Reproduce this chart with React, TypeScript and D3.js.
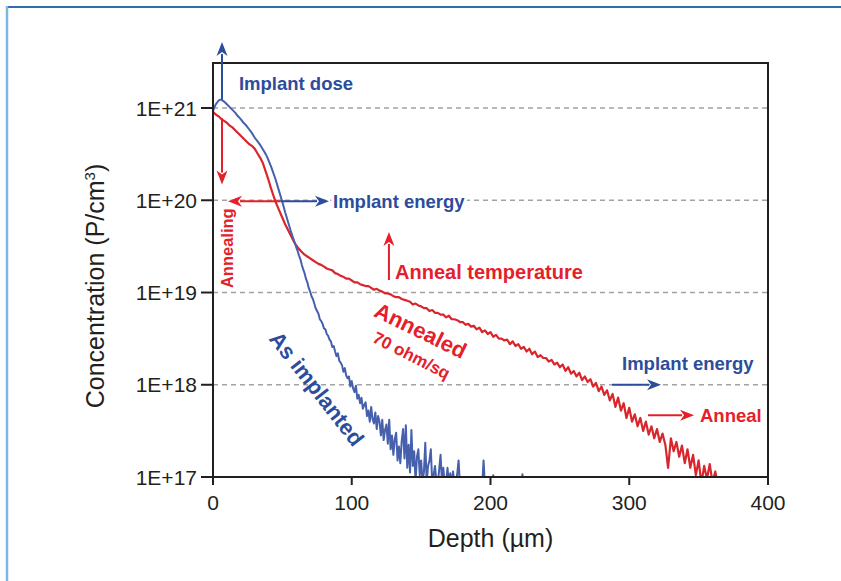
import React from "react";
import * as d3 from "d3";

// depth (um), log10 concentration (P/cm3)
const asImplanted: [number, number][] = [
  [0, 20.97], [1, 21.01], [2, 21.04], [3, 21.06], [4, 21.08], [5, 21.09], [6, 21.09], [7, 21.08], [8, 21.07],
  [10, 21.04], [12, 21.01], [14, 20.98], [16, 20.95], [18, 20.91], [20, 20.88], [22, 20.84], [24, 20.81],
  [26, 20.77], [28, 20.73], [30, 20.68], [32, 20.64], [34, 20.6], [36, 20.55], [38, 20.5], [39, 20.47],
  [42, 20.36], [45, 20.23], [48, 20.08], [50, 19.98], [52, 19.87], [54, 19.77], [56, 19.67], [58, 19.58],
  [60, 19.49], [61, 19.45], [62, 19.4], [63, 19.36], [64, 19.3], [65, 19.25], [66, 19.21], [67, 19.15],
  [68, 19.11], [69, 19.05], [70, 19.01], [71, 18.96], [72, 18.93], [73, 18.88], [74, 18.83], [75, 18.8],
  [76, 18.77], [77, 18.71], [78, 18.69], [79, 18.66], [80, 18.61], [81, 18.6], [82, 18.55], [83, 18.53],
  [84, 18.49], [85, 18.47], [86, 18.41], [87, 18.42], [88, 18.36], [89, 18.31], [90, 18.34], [91, 18.26],
  [92, 18.24], [93, 18.21], [94, 18.14], [95, 18.18], [96, 18.1], [97, 18.07], [98, 18.09], [99, 17.98],
  [100, 18.04], [101, 17.96], [102, 17.92], [103, 17.99], [104, 17.85], [105, 17.89], [106, 17.8], [107, 17.86],
  [108, 17.74], [109, 17.78], [110, 17.81], [111, 17.66], [112, 17.72], [113, 17.6], [114, 17.76], [115, 17.63],
  [116, 17.58], [117, 17.7], [118, 17.52], [119, 17.66], [120, 17.6], [121, 17.45], [122, 17.62], [123, 17.4],
  [124, 17.51], [125, 17.57], [126, 17.36], [127, 17.62], [128, 17.3], [129, 17.45], [130, 17.24], [131, 17.41],
  [132, 17.48], [133, 17.18], [134, 17.33], [135, 17.15], [136, 17.39], [137, 17.52], [138, 17.2], [139, 17.56],
  [140, 17.1], [141, 17.35], [142, 17.05], [143, 17.51], [144, 17.12], [145, 17.28], [146, 16.95], [147, 17.22],
  [148, 17.3], [149, 17.02], [150, 17.18], [151, 16.95], [152, 17.05], [153, 17.37], [154, 16.94], [155, 17.12],
  [156, 17.18], [157, 17.3], [158, 16.93], [159, 17.02], [160, 17.12], [161, 16.95], [162, 16.92], [163, 17.08],
  [164, 17.24], [165, 16.95], [166, 17.1], [167, 16.92], [168, 16.94], [169, 17.1], [170, 16.93], [171, 17.04],
  [172, 16.91], [173, 17.06], [174, 16.92], [175, 16.92], [176, 17.03], [177, 17.18], [178, 16.9], [194, 16.9],
  [195, 17.18], [196, 16.9], [201, 16.9], [202, 17.02], [203, 16.9], [222, 16.9], [223, 17.03], [224, 16.9],
];

const annealed: [number, number][] = [
  [0, 20.96], [2, 20.93], [4, 20.91], [6, 20.88], [8, 20.86], [10, 20.84], [12, 20.81], [14, 20.79],
  [16, 20.76], [18, 20.73], [20, 20.7], [22, 20.67], [24, 20.64], [26, 20.61], [28, 20.59], [30, 20.56],
  [32, 20.51], [34, 20.46], [36, 20.4], [38, 20.31], [40, 20.22], [42, 20.12], [44, 20.03], [46, 19.95],
  [48, 19.88], [50, 19.81], [52, 19.74], [54, 19.68], [56, 19.62], [58, 19.56], [60, 19.51], [62, 19.47],
  [64, 19.44], [66, 19.41], [68, 19.39], [70, 19.37], [72, 19.35], [74, 19.33], [76, 19.31], [78, 19.3],
  [80, 19.28], [82, 19.26], [84, 19.25], [86, 19.24], [88, 19.21], [90, 19.2], [92, 19.18], [94, 19.17],
  [96, 19.15], [98, 19.15], [100, 19.13], [102, 19.11], [104, 19.11], [106, 19.09], [108, 19.08], [110, 19.07],
  [112, 19.07], [114, 19.05], [116, 19.03], [118, 19.04], [120, 19.02], [122, 19.01], [124, 18.99], [126, 18.99],
  [128, 18.98], [130, 18.96], [132, 18.95], [134, 18.95], [136, 18.93], [138, 18.92], [140, 18.91], [142, 18.9],
  [144, 18.87], [146, 18.88], [148, 18.86], [150, 18.85], [152, 18.83], [154, 18.83], [156, 18.8], [158, 18.81],
  [160, 18.78], [162, 18.78], [164, 18.76], [166, 18.76], [168, 18.73], [170, 18.75], [172, 18.71], [174, 18.71],
  [176, 18.7], [178, 18.68], [180, 18.68], [182, 18.65], [184, 18.66], [186, 18.63], [188, 18.64], [190, 18.6],
  [192, 18.62], [194, 18.57], [196, 18.59], [198, 18.55], [200, 18.57], [202, 18.52], [204, 18.54], [206, 18.5],
  [208, 18.5], [210, 18.48], [212, 18.49], [214, 18.44], [216, 18.47], [218, 18.42], [220, 18.44], [222, 18.39],
  [224, 18.41], [226, 18.36], [228, 18.39], [230, 18.33], [232, 18.36], [234, 18.3], [236, 18.32], [238, 18.29],
  [240, 18.29], [242, 18.25], [244, 18.27], [246, 18.22], [248, 18.24], [250, 18.19], [252, 18.22], [254, 18.15],
  [256, 18.19], [258, 18.12], [260, 18.15], [262, 18.09], [264, 18.13], [266, 18.05], [268, 18.09], [270, 18.03],
  [272, 18.06], [274, 17.98], [276, 18.02], [278, 17.93], [280, 17.98], [282, 17.89], [284, 17.94], [286, 17.83],
  [288, 17.9], [290, 17.76], [292, 17.86], [294, 17.72], [296, 17.8], [298, 17.64], [300, 17.75], [302, 17.6],
  [304, 17.68], [306, 17.55], [308, 17.64], [310, 17.5], [312, 17.6], [314, 17.46], [316, 17.55], [318, 17.42],
  [320, 17.52], [322, 17.38], [324, 17.47], [326, 17.35], [328, 17.1], [330, 17.42], [332, 17.28], [334, 17.38],
  [336, 17.22], [338, 17.34], [340, 17.15], [342, 17.3], [344, 17.1], [346, 17.24], [348, 17.02], [350, 17.18],
  [352, 16.93], [354, 17.12], [356, 16.98], [358, 17.14], [360, 16.94], [362, 17.06], [364, 16.9],
];

const depthTicks = [0, 100, 200, 300, 400];
const concTicks = [1e17, 1e18, 1e19, 1e20, 1e21];
const gridTicks = [1e18, 1e19, 1e20, 1e21];

const BLUE = "#2c4c9c";
const RED = "#e5202a";
const BLUE_LINE = "#4660ad";
const RED_LINE = "#d8262c";
const INK = "#231f20";
const FONT = "'Liberation Sans', Arial, Helvetica, sans-serif";

const left = 213, right = 768, top = 63, bottom = 477;

const x = d3.scaleLinear().domain([0, 400]).range([left, right]);
const y = d3.scaleLog().domain([1e17, Math.pow(10, 21.488)]).range([bottom, top]);
const ly = (v: number) => y(Math.pow(10, v));

const line = d3.line<[number, number]>()
  .x(d => x(d[0]))
  .y(d => ly(d[1]));

function Arrow({ x1, y1, x2, y2, color }: { x1: number; y1: number; x2: number; y2: number; color: string }) {
  const ang = Math.atan2(y2 - y1, x2 - x1);
  const len = 14, hw = 5.5;
  const bx = x2 - len * Math.cos(ang), by = y2 - len * Math.sin(ang);
  const px = -Math.sin(ang) * hw, py = Math.cos(ang) * hw;
  return (
    <g>
      <line x1={x1} y1={y1} x2={bx + 2 * Math.cos(ang)} y2={by + 2 * Math.sin(ang)} stroke={color} strokeWidth={2} />
      <polygon points={`${x2},${y2} ${bx + px},${by + py} ${bx + 4 * Math.cos(ang)},${by + 4 * Math.sin(ang)} ${bx - px},${by - py}`} fill={color} />
    </g>
  );
}

export default function App() {
  return (
    <div style={{ position: "absolute", left: 0, top: 0 }}>
      <svg width={841} height={581} style={{ display: "block", background: "#fff" }} fontFamily={FONT}>
        <defs>
          <clipPath id="plot">
            <rect x={left} y={top} width={right - left} height={bottom - top} />
          </clipPath>
        </defs>

        {/* page frame */}
        <line x1={6} y1={7} x2={841} y2={7} stroke="#2f6ead" strokeWidth={2} />
        <line x1={7} y1={6} x2={7} y2={581} stroke="#7db8e1" strokeWidth={2.5} />

        {/* grid */}
        {gridTicks.map(t => (
          <line key={t} x1={left} x2={right} y1={y(t)} y2={y(t)} stroke="#a3a3a3" strokeWidth={1.5} strokeDasharray="5,4" />
        ))}

        {/* data */}
        <g clipPath="url(#plot)">
          <path d={line(annealed) || ""} fill="none" stroke={RED_LINE} strokeWidth={2.2} strokeLinejoin="round" />
          <path d={line(asImplanted) || ""} fill="none" stroke={BLUE_LINE} strokeWidth={2} strokeLinejoin="round" />
        </g>

        {/* frame and axes */}
        <rect x={left} y={top} width={right - left} height={bottom - top} fill="none" stroke={INK} strokeWidth={2} />
        {concTicks.map(t => (
          <g key={t}>
            <line x1={left - 12} x2={left} y1={y(t)} y2={y(t)} stroke={INK} strokeWidth={2} />
            <text x={left - 16} y={y(t)} dy="0.36em" textAnchor="end" fontSize={21} fill={INK}>
              {`1E+${Math.round(Math.log10(t))}`}
            </text>
          </g>
        ))}
        {depthTicks.map(t => (
          <g key={t}>
            <line x1={x(t)} x2={x(t)} y1={bottom} y2={bottom + 8} stroke={INK} strokeWidth={2} />
            <text x={x(t)} y={510} textAnchor="middle" fontSize={21} fill={INK}>{t}</text>
          </g>
        ))}
        <text x={(left + right) / 2} y={547} textAnchor="middle" fontSize={25} fill={INK}>Depth (µm)</text>
        <text transform="translate(104,286) rotate(-90)" textAnchor="middle" fontSize={25} fill={INK}>
          Concentration (P/cm<tspan dy="-9" fontSize={15}>3</tspan><tspan dy="9">)</tspan>
        </text>

        {/* annotations */}
        <Arrow x1={x(6.5)} y1={ly(21.09)} x2={x(6.5)} y2={ly(21.715)} color={BLUE} />
        <text x={x(18.7)} y={ly(21.27)} dy="0.36em" fontSize={18.5} fontWeight="bold" fill={BLUE}>Implant dose</text>
        <Arrow x1={x(6.5)} y1={ly(20.89)} x2={x(6.5)} y2={ly(20.17)} color={RED} />
        <Arrow x1={x(48.6)} y1={ly(19.99)} x2={x(10.8)} y2={ly(19.99)} color={RED} />
        <Arrow x1={x(48.6)} y1={ly(19.99)} x2={x(83.6)} y2={ly(19.99)} color={BLUE} />
        <text x={x(86.5)} y={ly(19.99)} dy="0.36em" fontSize={18.5} fontWeight="bold" fill={BLUE}
          stroke="#fff" strokeWidth={6} paintOrder="stroke">Implant energy</text>
        <text transform={`translate(${x(10.5) + 5},${ly(19.48)}) rotate(-90)`} textAnchor="middle" fontSize={16.5} fontWeight="bold" fill={RED}>Annealing</text>
        <Arrow x1={x(126.8)} y1={ly(19.135)} x2={x(126.8)} y2={ly(19.656)} color={RED} />
        <text x={x(131.2)} y={ly(19.22)} dy="0.36em" fontSize={20} fontWeight="bold" fill={RED}>Anneal temperature</text>
        <text transform={`translate(${x(149.7)},${ly(18.59)}) rotate(26)`} dy="0.36em" textAnchor="middle" fontSize={22} fontWeight="bold" fill={RED}>Annealed</text>
        <text transform={`translate(${x(143.2)},${ly(18.32)}) rotate(27)`} dy="0.36em" textAnchor="middle" fontSize={17} fontWeight="bold" fill={RED}>70 ohm/sq</text>
        <text transform={`translate(${x(75)},${ly(17.96)}) rotate(52)`} dy="0.36em" textAnchor="middle" fontSize={22} fontWeight="bold" fill={BLUE}>As implanted</text>
        <Arrow x1={x(287.6)} y1={ly(18)} x2={x(322.9)} y2={ly(18)} color={BLUE} />
        <text x={x(294.8)} y={ly(18.236)} dy="0.36em" fontSize={18.5} fontWeight="bold" fill={BLUE}>Implant energy</text>
        <Arrow x1={x(313.5)} y1={ly(17.67)} x2={x(346.7)} y2={ly(17.67)} color={RED} />
        <text x={x(351)} y={ly(17.67)} dy="0.36em" fontSize={18.5} fontWeight="bold" fill={RED}>Anneal</text>
      </svg>
    </div>
  );
}
